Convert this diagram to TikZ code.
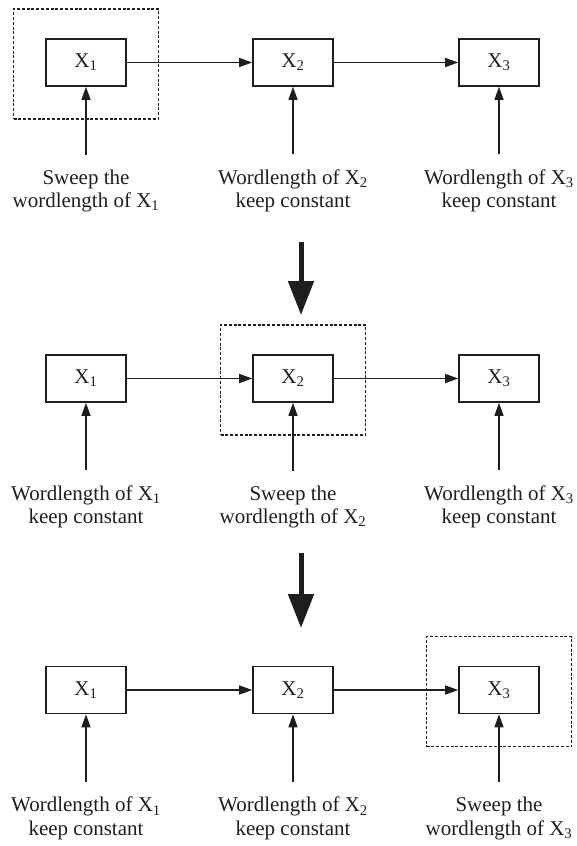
\documentclass[tikz,border=0pt]{standalone}
\usepackage{fontspec}
\setmainfont{Liberation Serif}
\usetikzlibrary{arrows.meta}

\definecolor{ink}{HTML}{1E1E1E}

% caption under each variable: swept or held fixed
\newcommand{\wlabel}[2]{%
  \ifnum#1=#2 Sweep the\\wordlength of X\textsubscript{#1}%
  \else Wordlength of X\textsubscript{#1}\\keep constant\fi}

\tikzset{
  block/.style={draw=ink, line width=1.6pt, minimum width=80pt, minimum height=47pt,
    inner sep=0pt, text=ink, font=\fontsize{21}{24}\selectfont},
  caption/.style={align=center, inner xsep=0pt, inner ysep=15pt, text=ink,
    font=\fontsize{21}{23.5}\selectfont},
  feed/.style={draw=ink, line width=1.4pt, -{Triangle[length=13pt,width=9pt]}},
  sweepbox/.style={draw=ink, line width=1.5pt, dash pattern=on 3pt off 1.8pt,
    minimum width=145pt, minimum height=110pt, yshift=-1.5pt},
  bigarrow/.style={draw=ink, line width=5pt, -{Triangle[length=34pt,width=25pt]}}
}

\begin{document}
\begin{tikzpicture}[x=1pt, y=-1pt] % y runs downwards
    \useasboundingbox (0,0) rectangle (576,846);

    % Three passes; in each one variable is swept, the other two are fixed
    \foreach \r/\y/\s in {a/62.5/1, b/378.5/2, c/690/3} {
        \foreach \c/\x in {1/86, 2/293, 3/499} {
            \node[block] (\r\c) at (\x,\y) {X\textsubscript{\c}};
            \node[caption] (l\r\c) at (\x,\y+128.5) {\wlabel{\c}{\s}};
            \draw[feed] (l\r\c) -- (\r\c);
        }
        \draw[feed] (\r1) -- (\r2);
        \draw[feed] (\r2) -- (\r3);
        \node[sweepbox] at (\r\s) {}; % the one being swept
    }

    % Step arrows between the passes
    \coordinate (go1) at (301,242);
    \coordinate (to1) at (301,315);
    \coordinate (go2) at (301,553);
    \coordinate (to2) at (301,628);
    \draw[bigarrow] (go1) -- (to1);
    \draw[bigarrow] (go2) -- (to2);
\end{tikzpicture}
\end{document}
